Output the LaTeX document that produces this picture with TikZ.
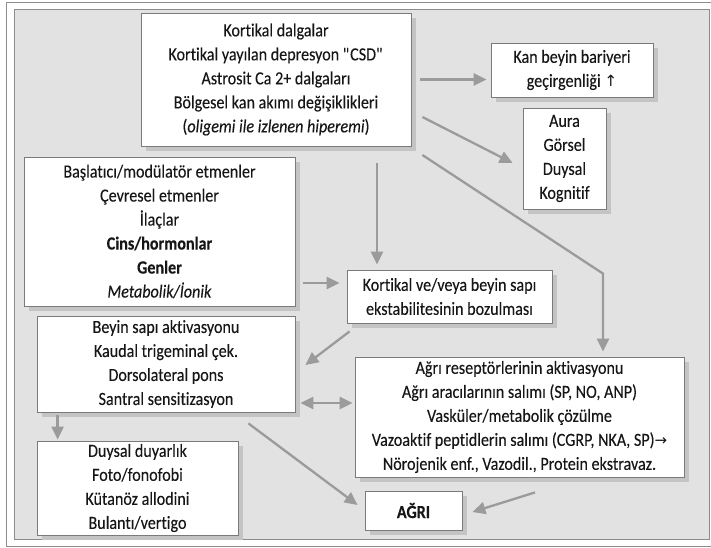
\documentclass[tikz,border=0pt]{standalone}
\usepackage{fontspec}
\setmainfont{Carlito}[FakeStretch=0.87, Ligatures={NoCommon}, FakeBold=0.12,
  BoldFeatures={FakeBold=0.25}]
\newfontfamily\symfont{DejaVu Sans}
\usetikzlibrary{arrows.meta,calc,shadows}

\definecolor{panelbg}{HTML}{E2E2E3}
\definecolor{panelline}{HTML}{8C8C8C}
\definecolor{shadowc}{HTML}{C4C4C5}
\definecolor{boxline}{HTML}{7A7A7A}
\definecolor{arrowc}{HTML}{9B9B9C}
\definecolor{txt}{HTML}{161616}

\tikzset{
  box/.style={draw=boxline, line width=0.8pt, fill=white, align=center,
    inner sep=0pt, text=txt, font=\fontsize{18.5}{24}\selectfont,
    drop shadow={shadow xshift=4.5pt, shadow yshift=-4.5pt, fill=shadowc, opacity=1}},
  flow/.style={draw=arrowc, line width=2.3pt,
    -{Triangle[length=13pt,width=12pt]}},
  flowboth/.style={draw=arrowc, line width=2.3pt,
    {Triangle[length=13pt,width=12pt]}-{Triangle[length=13pt,width=12pt]}}
}

\begin{document}
\begin{tikzpicture}[x=1pt,y=-1pt]
\useasboundingbox (0,0) rectangle (711,547);

% outer frame and grey panel
\draw[panelline, line width=0.8pt] (712,2) -- (6,2) -- (6,546) -- (712,546);
\draw[draw=panelline, fill=panelbg, line width=1pt] (14,9) rectangle (709,539);

% boxes
\node[box, minimum width=270pt, minimum height=133pt] (top) at (276,79.5)
  {Kortikal dalgalar\\
   Kortikal yayılan depresyon \textquotedbl CSD\textquotedbl\\
   Astrosit Ca 2+ dalgaları\\
   Bölgesel kan akımı değişiklikleri\\
   (\textit{oligemi ile izlenen hiperemi})};

\node[box, minimum width=162pt, minimum height=54pt] (kbb) at (572,70)
  {Kan beyin bariyeri\\ geçirgenliği {\symfont\fontsize{15.5}{24}\selectfont ↑}};

\node[box, minimum width=83pt, minimum height=101pt] (aura) at (564.5,158.5)
  {Aura\\ Görsel\\ Duysal\\ Kognitif};

\node[box, minimum width=271pt, minimum height=149pt] (basl) at (159.5,231.5)
  {Başlatıcı/modülatör etmenler\\
   Çevresel etmenler\\
   İlaçlar\\
   \textbf{Cins/hormonlar}\\
   \textbf{Genler}\\
   \textit{Metabolik/İonik}};

\node[box, minimum width=205pt, minimum height=53pt] (kort) at (449.5,296.5)
  {Kortikal ve/veya beyin sapı\\ ekstabilitesinin bozulması};

\node[box, minimum width=258pt, minimum height=96pt] (beyin) at (166,364)
  {Beyin sapı aktivasyonu\\
   Kaudal trigeminal çek.\\
   Dorsolateral pons\\
   Santral sensitizasyon};

\node[box, minimum width=201pt, minimum height=94pt] (duysal) at (137.5,488)
  {Duysal duyarlık\\
   Foto/fonofobi\\
   Kütanöz allodini\\
   Bulantı/vertigo};

\node[box, minimum width=329pt, minimum height=120pt] (recep) at (519.5,417)
  {Ağrı reseptörlerinin aktivasyonu\\
   Ağrı aracılarının salımı (SP, NO, ANP)\\
   Vasküler/metabolik çözülme\\
   Vazoaktif peptidlerin salımı (CGRP, NKA, SP){\symfont\fontsize{15}{24}\selectfont →}\\
   Nörojenik enf., Vazodil., Protein ekstravaz.};

\node[box, minimum width=97pt, minimum height=39pt, font=\fontsize{18.5}{24}\selectfont\bfseries] (agri) at (413.5,510.5)
  {AĞRI};

% connectors
\draw[flow] ($(top.east)+(9,0)$) -- ($(kbb.west)+(-4,9.5)$);
\draw[flow] ($(top.east)+(11,37.5)$) -- ($(aura.west)+(-10,4.5)$);
\coordinate (bend) at ($(recep.north)+(83.5,-83)$);
\draw[flow] ($(top.east)+(11,75.5)$) -- (bend) -- ($(recep.north)+(83.5,-5)$);
\draw[flow] ($(top.south)+(101,17)$) -- ($(kort.north)+(-72.5,-5)$);
\draw[flow] ($(basl.east)+(8,51.5)$) -- ($(kort.west)+(-7,-13.5)$);
\draw[flow] ($(kort.south west)+(3,8)$) -- ($(beyin.east)+(10,1)$);
\draw[flowboth] ($(beyin.east)+(5,39)$) -- ($(recep.west)+(-2,-14)$);
\draw[flow] ($(beyin.south east)+(-47,11)$) -- ($(agri.west)+(-7,-5.5)$);
\draw[flow] ($(recep.south)+(15.5,15)$) -- ($(agri.east)+(10,1.5)$);
\draw[flow] ($(beyin.south west)+(21,3)$) -- ($(duysal.north west)+(21,-1)$);
\end{tikzpicture}
\end{document}
